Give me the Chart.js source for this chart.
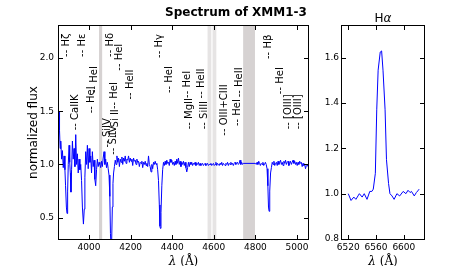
<!DOCTYPE html>
<html>
<head>
<meta charset="utf-8">
<title>Spectrum of XMM1-3</title>
<script src="https://cdn.jsdelivr.net/npm/chart.js@4.4.1/dist/chart.umd.min.js"></script>
<style>
  body { margin: 0; background: #fff; }
  #fig { position: relative; width: 472px; height: 266px; overflow: hidden; }
  #fig canvas { position: absolute; top: 0; }
  #blueChart { left: 0; }
  #redChart { left: 312px; }
</style>
</head>
<body>
<div id="fig">
  <canvas id="blueChart" width="312" height="266"></canvas>
  <canvas id="redChart" width="160" height="266"></canvas>
</div>
<script>
// blue part of the normalised spectrum (Angstrom / flux)
const waveBlue = [
  3856, 3858, 3861, 3864, 3868, 3872, 3876, 3880, 3884, 3887,
  3891, 3894, 3897, 3900, 3904, 3907, 3910, 3913, 3916, 3920,
  3924, 3928, 3932, 3936, 3940, 3944, 3948, 3952, 3956, 3960,
  3964, 3968, 3973, 3977, 3980, 3984, 3988, 3992, 3996, 4000,
  4004, 4008, 4012, 4016, 4020, 4024, 4028, 4032, 4036, 4040,
  4044, 4048, 4052, 4056, 4060, 4064, 4068, 4072, 4076, 4080,
  4084, 4088, 4092, 4096, 4100, 4103, 4106, 4109, 4112, 4115,
  4118, 4122, 4126, 4130, 4134, 4138, 4142, 4146, 4150, 4154,
  4158, 4162, 4166, 4170, 4174, 4178, 4182, 4186, 4190, 4194,
  4198, 4202, 4206, 4210, 4214, 4218, 4222, 4226, 4230, 4234,
  4238, 4242, 4246, 4250, 4254, 4258, 4262, 4266, 4270, 4274,
  4278, 4282, 4286, 4290, 4294, 4298, 4302, 4306, 4310, 4314,
  4318, 4322, 4326, 4330, 4334, 4338, 4341, 4343, 4346, 4350,
  4354, 4358, 4362, 4366, 4370, 4374, 4378, 4382, 4386, 4390,
  4394, 4398, 4402, 4406, 4410, 4414, 4418, 4422, 4426, 4430,
  4434, 4438, 4442, 4446, 4450, 4454, 4458, 4462, 4466, 4470,
  4474, 4478, 4482, 4486, 4490, 4494, 4498, 4502, 4506, 4510,
  4514, 4518, 4522, 4526, 4530, 4534, 4538, 4542, 4546, 4550,
  4554, 4558, 4562, 4566, 4570, 4574, 4578, 4582, 4586, 4590,
  4594, 4598, 4602, 4606, 4610, 4614, 4618, 4622, 4626, 4630,
  4634, 4638, 4642, 4646, 4650, 4654, 4658, 4662, 4666, 4670,
  4674, 4678, 4682, 4686, 4690, 4694, 4698, 4702, 4706, 4710,
  4714, 4718, 4722, 4726, 4730, 4734, 4738, 4742, 4800, 4804,
  4808, 4812, 4816, 4820, 4824, 4828, 4832, 4836, 4840, 4844,
  4848, 4852, 4856, 4860, 4863, 4866, 4869, 4873, 4877, 4881,
  4885, 4889, 4893, 4897, 4901, 4905, 4909, 4913, 4917, 4921,
  4925, 4929, 4933, 4937, 4941, 4945, 4949, 4953, 4957, 4961,
  4965, 4969, 4973, 4977, 4981, 4985, 4989, 4993, 4997, 5001,
  5005, 5009, 5013, 5017, 5021, 5025, 5029, 5033, 5037, 5041,
  5045, 5049, 5053
];
const fluxBlue = [
  1.50, 1.32, 1.15, 1.22, 1.05, 1.13, 0.97, 1.08, 0.95, 0.80,
  0.60, 0.54, 0.75, 1.00, 1.18, 1.02, 0.92, 0.74, 0.95, 1.22,
  1.05, 1.15, 0.98, 1.28, 1.00, 1.10, 0.92, 1.05, 0.95, 1.00,
  0.85, 0.60, 0.44, 0.58, 0.88, 1.12, 1.00, 1.18, 0.96, 1.15,
  1.02, 1.08, 0.92, 1.12, 0.98, 1.04, 0.86, 0.80, 0.95, 1.05,
  0.98, 1.02, 1.00, 0.97, 1.03, 0.98, 1.06, 1.12, 1.00, 1.05,
  0.97, 1.02, 0.96, 0.90, 0.70, 0.35, 0.22, 0.30, 0.60, 0.82,
  0.92, 0.98, 1.04, 1.00, 1.08, 1.02, 1.06, 0.98, 1.05, 1.02,
  1.07, 1.00, 1.06, 1.03, 1.08, 1.01, 1.05, 1.04, 1.08, 1.02,
  1.06, 1.03, 1.05, 0.99, 1.06, 1.03, 1.04, 1.00, 1.05, 1.02,
  1.03, 0.98, 1.02, 1.01, 1.03, 0.97, 1.02, 1.00, 1.03, 0.99,
  1.01, 0.98, 1.08, 1.00, 0.98, 0.93, 1.00, 0.96, 1.02, 1.00,
  1.03, 1.00, 1.01, 0.95, 0.85, 0.62, 0.42, 0.40, 0.55, 0.80,
  0.95, 1.02, 0.99, 1.03, 1.00, 1.04, 1.01, 1.02, 0.99, 1.05,
  1.02, 1.04, 1.00, 1.02, 0.99, 1.03, 1.00, 1.05, 1.01, 1.06,
  1.00, 1.03, 0.98, 1.02, 1.00, 1.03, 0.99, 1.02, 0.97, 0.93,
  0.97, 1.02, 0.98, 1.02, 1.00, 1.02, 0.99, 1.01, 1.00, 1.02,
  0.99, 1.01, 1.00, 1.02, 0.99, 1.01, 0.99, 1.00, 1.01, 0.99,
  1.00, 1.01, 0.99, 1.00, 1.01, 0.99, 1.00, 1.00, 1.01, 0.99,
  1.00, 1.01, 0.99, 1.00, 1.02, 0.99, 1.01, 1.00, 0.99, 1.01,
  1.00, 1.02, 0.99, 1.01, 1.00, 0.99, 1.01, 1.00, 1.02, 0.99,
  1.01, 1.00, 1.02, 1.00, 1.01, 0.99, 1.01, 1.02, 1.00, 1.01,
  1.02, 1.00, 1.01, 1.04, 1.00, 1.02, 1.00, 1.01, 1.01, 1.00,
  1.02, 1.00, 1.03, 1.01, 0.99, 1.01, 1.00, 1.02, 0.99, 1.00,
  1.02, 1.00, 0.96, 0.80, 0.60, 0.56, 0.75, 0.92, 0.97, 1.02,
  1.00, 1.03, 0.99, 1.01, 1.02, 0.99, 1.03, 1.00, 1.02, 1.04,
  1.00, 1.02, 0.99, 1.03, 1.01, 1.04, 1.00, 1.02, 1.03, 0.99,
  1.01, 1.03, 1.00, 1.02, 1.04, 1.01, 1.03, 1.00, 1.02, 0.99,
  1.02, 1.00, 1.03, 1.01, 1.02, 0.98, 1.01, 0.99, 1.00, 0.96,
  0.99, 1.00, 0.98
];

// H-alpha cut-out
const waveRed = [6520, 6524, 6528, 6531, 6534, 6536, 6540, 6543, 6547, 6551, 6554, 6556, 6559, 6561, 6563, 6566, 6568, 6570, 6573, 6575, 6578, 6580, 6583, 6586, 6590, 6594, 6599, 6603, 6606, 6609, 6611, 6615, 6618, 6620, 6622];
const fluxRed = [1.00, 0.97, 0.985, 0.975, 0.99, 1.00, 0.985, 1.00, 0.975, 1.01, 1.01, 1.02, 1.09, 1.37, 1.545, 1.625, 1.63, 1.545, 1.37, 1.15, 1.045, 1.00, 0.99, 0.975, 1.00, 0.99, 1.01, 1.00, 1.015, 1.005, 1.01, 0.99, 1.005, 1.012, 1.02];

// tick values
const blueXTicks = [4000, 4200, 4400, 4600, 4800, 5000];
const blueYTicks = [0.5, 1.0, 1.5, 2.0];
const redXTicks = [6520, 6560, 6600];
const redYTicks = [0.8, 1.0, 1.2, 1.4, 1.6];

// masked wavelength ranges
const maskStart = [4048, 4570, 4594, 4741];
const maskEnd = [4063, 4588, 4612, 4798];

// line identifications (wavelength, name, flux level where the label starts)
const lineWaves = [3889, 3970, 3934, 4009, 4026, 4089, 4116, 4128, 4121, 4102, 4144, 4200, 4340, 4388, 4481, 4471, 4553, 4542, 4650, 4713, 4725, 4861, 4922, 4959, 5007];
const lineNames = ['Hζ', 'Hε', 'CaIIK', 'HeI', 'HeI', 'SiIV', 'SiIV', 'Si II', 'HeI', 'Hδ', 'HeI', 'HeII', 'Hγ', 'HeI', 'MgII', 'HeI', 'SiIII', 'HeII', 'OIII+CIII', 'HeI', 'HeII', 'Hβ', 'HeI', '[OIII]', '[OIII]'];
const lineLabelY = [2.01, 2.01, 1.32, 1.48, 1.67, 1.16, 1.09, 1.25, 1.52, 2.01, 1.88, 1.61, 2.0, 1.67, 1.33, 1.625, 1.33, 1.62, 1.27, 1.36, 1.63, 1.99, 1.66, 1.33, 1.33];

Chart.defaults.font.family = 'DejaVu Sans';
Chart.defaults.color = '#000';

function toPoints(xs, ys) {
  return xs.map((x, i) => ({ x: x, y: ys[i] }));
}

// matplotlib style box with inward ticks on all four sides
const axesFrame = {
  id: 'axesFrame',
  afterDatasetsDraw(chart) {
    const { ctx, chartArea: a } = chart;
    const x = chart.scales.x, y = chart.scales.y;
    ctx.save();
    ctx.strokeStyle = '#000';
    ctx.lineWidth = 1;
    ctx.beginPath();
    x.ticks.forEach(t => {
      const px = Math.round(x.getPixelForValue(t.value)) + 0.5;
      ctx.moveTo(px, a.bottom); ctx.lineTo(px, a.bottom - 4);
      ctx.moveTo(px, a.top); ctx.lineTo(px, a.top + 4);
    });
    y.ticks.forEach(t => {
      const py = Math.round(y.getPixelForValue(t.value)) + 0.5;
      ctx.moveTo(a.left, py); ctx.lineTo(a.left + 4, py);
      ctx.moveTo(a.right, py); ctx.lineTo(a.right - 4, py);
    });
    ctx.stroke();
    ctx.strokeRect(a.left - 0.5, a.top - 0.5, a.right - a.left + 1, a.bottom - a.top + 1);
    ctx.restore();
  }
};

function drawLambda(ctx, cx, base) {
  ctx.save();
  ctx.textAlign = 'left';
  ctx.textBaseline = 'alphabetic';
  ctx.fillStyle = '#000';
  ctx.font = 'italic 12px "DejaVu Serif"';
  const w1 = ctx.measureText('λ').width;
  ctx.font = '12px "DejaVu Serif"';
  const w2 = ctx.measureText(' (Å)').width;
  const x0 = cx - (w1 + w2) / 2;
  ctx.font = 'italic 12px "DejaVu Serif"';
  ctx.fillText('λ', x0, base);
  ctx.font = '12px "DejaVu Serif"';
  ctx.fillText(' (Å)', x0 + w1, base);
  ctx.restore();
}

const blueExtras = {
  id: 'blueExtras',
  beforeDatasetsDraw(chart) {
    const { ctx, chartArea: a } = chart;
    const x = chart.scales.x;
    ctx.save();
    maskStart.forEach((s, i) => {
      const x0 = x.getPixelForValue(s), x1 = x.getPixelForValue(maskEnd[i]);
      ctx.fillStyle = i === 1 || i === 2 ? 'rgba(200,195,195,0.45)' : 'rgba(200,195,195,0.75)';
      ctx.fillRect(x0, a.top, x1 - x0, a.bottom - a.top);
    });
    ctx.restore();
  },
  afterDatasetsDraw(chart) {
    const { ctx } = chart;
    const x = chart.scales.x, y = chart.scales.y;
    ctx.save();
    ctx.fillStyle = '#000';
    ctx.font = '10px "DejaVu Sans"';
    ctx.textAlign = 'left';
    ctx.textBaseline = 'middle';
    lineWaves.forEach((w, i) => {
      ctx.save();
      ctx.translate(x.getPixelForValue(w), y.getPixelForValue(lineLabelY[i]));
      ctx.rotate(-Math.PI / 2);
      ctx.fillText('-- ' + lineNames[i], 0, 0);
      ctx.restore();
    });
    ctx.restore();
  },
  afterDraw(chart) {
    const { ctx, chartArea: a } = chart;
    ctx.save();
    ctx.fillStyle = '#000';
    ctx.font = 'bold 12px "DejaVu Sans"';
    ctx.textAlign = 'center';
    ctx.textBaseline = 'alphabetic';
    ctx.fillText('Spectrum of XMM1-3', 236, 16);
    ctx.font = '12px "DejaVu Sans"';
    ctx.translate(37, (a.top + a.bottom) / 2);
    ctx.rotate(-Math.PI / 2);
    ctx.fillText('normalized flux', 0, 0);
    ctx.restore();
    drawLambda(ctx, (a.left + a.right) / 2, 265);
  }
};

const redExtras = {
  id: 'redExtras',
  afterDraw(chart) {
    const { ctx, chartArea: a } = chart;
    const cx = (a.left + a.right) / 2;
    ctx.save();
    ctx.fillStyle = '#000';
    ctx.textAlign = 'left';
    ctx.textBaseline = 'alphabetic';
    ctx.font = '12px "DejaVu Sans"';
    const wH = ctx.measureText('H').width;
    ctx.font = 'italic 12px "DejaVu Sans"';
    const wA = ctx.measureText('α').width;
    const x0 = cx - (wH + wA) / 2;
    ctx.font = '12px "DejaVu Sans"';
    ctx.fillText('H', x0, 22);
    ctx.font = 'italic 12px "DejaVu Sans"';
    ctx.fillText('α', x0 + wH, 22);
    ctx.restore();
    drawLambda(ctx, cx, 265);
  }
};

function axisOpts(min, max, tickList, fmt, fit, pad) {
  return {
    type: 'linear',
    min: min,
    max: max,
    afterBuildTicks: s => { s.ticks = tickList.map(v => ({ value: v })); },
    afterFit: fit,
    grid: { display: false, drawTicks: false },
    border: { display: false },
    ticks: { padding: pad, maxRotation: 0, autoSkip: false, font: { size: 9 }, callback: fmt }
  };
}

new Chart(document.getElementById('blueChart'), {
  type: 'line',
  data: {
    datasets: [{
      data: toPoints(waveBlue, fluxBlue),
      borderColor: '#0000ff',
      borderWidth: 1,
      pointRadius: 0,
      tension: 0
    }]
  },
  options: {
    responsive: false,
    animation: false,
    events: [],
    layout: { padding: { top: 26, right: 4, left: 0, bottom: 0 } },
    plugins: { legend: { display: false }, tooltip: { enabled: false } },
    scales: {
      x: axisOpts(3855.5, 5053, blueXTicks, v => String(v), s => { s.height = 27; }, 3),
      y: axisOpts(0.3, 2.3, blueYTicks, v => v.toFixed(1), s => { s.width = 59; }, 5)
    }
  },
  plugins: [blueExtras, axesFrame]
});

new Chart(document.getElementById('redChart'), {
  type: 'line',
  data: {
    datasets: [{
      data: toPoints(waveRed, fluxRed),
      borderColor: '#0000ff',
      borderWidth: 1,
      pointRadius: 0,
      tension: 0
    }]
  },
  options: {
    responsive: false,
    animation: false,
    events: [],
    layout: { padding: { top: 26, right: 48, left: 0, bottom: 0 } },
    plugins: { legend: { display: false }, tooltip: { enabled: false } },
    scales: {
      x: axisOpts(6511, 6629, redXTicks, v => String(v), s => { s.height = 27; }, 3),
      y: axisOpts(0.8, 1.74, redYTicks, v => v.toFixed(1), s => { s.width = 30; }, 3)
    }
  },
  plugins: [redExtras, axesFrame]
});
</script>
</body>
</html>
